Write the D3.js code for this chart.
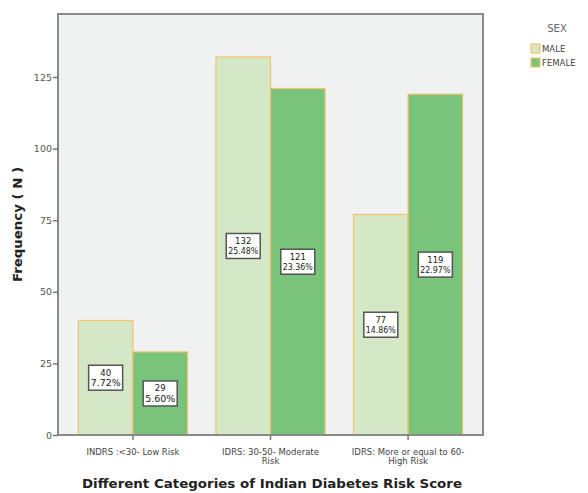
<!DOCTYPE html>
<html lang="en">
<head>
  <meta charset="UTF-8">
  <title>Indian Diabetes Risk Score by Sex</title>
  <script src="https://d3js.org/d3.v7.min.js"></script>
  <style>
    body { margin: 0; background: #fff; }
    svg { display: block; font-family: "DejaVu Sans", "Liberation Sans", Arial, sans-serif; }
  </style>
</head>
<body>
  <svg width="588" height="493"></svg>

  <script>
    // chart data
    const categories = ["INDRS :<30- Low Risk", "IDRS: 30-50- Moderate Risk", "IDRS: More or equal to 60- High Risk"];
    const categoryLines = [["INDRS :<30- Low Risk"], ["IDRS: 30-50- Moderate", "Risk"], ["IDRS: More or equal to 60-", "High Risk"]];
    const sexes = ["MALE", "FEMALE"];
    const maleCounts = [40, 132, 77];
    const femaleCounts = [29, 121, 119];
    const malePct = ["7.72%", "25.48%", "14.86%"];
    const femalePct = ["5.60%", "23.36%", "22.97%"];
    const yTicks = [0, 25, 50, 75, 100, 125];

    const colors = { MALE: "#d4e8c6", FEMALE: "#78c47a" };

    const svg = d3.select("svg");
    const plot = { left: 58, right: 483, top: 14, bottom: 435 };

    const rows = [];
    categories.forEach((c, i) => {
      rows.push({ cat: c, sex: "MALE", n: maleCounts[i], pct: malePct[i] });
      rows.push({ cat: c, sex: "FEMALE", n: femaleCounts[i], pct: femalePct[i] });
    });

    const x = d3.scaleBand()
      .domain(categories)
      .range([plot.left, plot.right])
      .paddingInner(0.207)
      .paddingOuter(0.148);

    const xSub = d3.scaleBand()
      .domain(sexes)
      .range([0, x.bandwidth()]);

    const y = d3.scaleLinear()
      .domain([0, 147])
      .range([plot.bottom, plot.top]);

    // plot background
    svg.append("rect")
      .attr("x", plot.left)
      .attr("y", plot.top)
      .attr("width", plot.right - plot.left)
      .attr("height", plot.bottom - plot.top)
      .attr("fill", "#f0f1f1");

    // bars
    svg.append("g").selectAll("rect")
      .data(rows)
      .join("rect")
      .attr("x", d => x(d.cat) + xSub(d.sex))
      .attr("y", d => y(d.n))
      .attr("width", xSub.bandwidth())
      .attr("height", d => y(0) - y(d.n))
      .attr("fill", d => colors[d.sex])
      .attr("stroke", "#f2c26e")
      .attr("stroke-width", 1.2);

    // value labels
    const labels = svg.append("g").selectAll("g")
      .data(rows)
      .join("g")
      .attr("transform", d => `translate(${x(d.cat) + xSub(d.sex) + xSub.bandwidth() / 2}, ${y(d.n / 2)})`);

    labels.append("rect")
      .attr("x", -17)
      .attr("y", -12.5)
      .attr("width", 34)
      .attr("height", 25)
      .attr("fill", "#fff")
      .attr("stroke", "#555")
      .attr("stroke-width", 1.5);

    labels.append("text")
      .attr("text-anchor", "middle")
      .attr("y", -2)
      .attr("font-size", 8.5)
      .attr("fill", "#222")
      .text(d => d.n);

    labels.append("text")
      .attr("text-anchor", "middle")
      .attr("y", 8.5)
      .attr("font-size", 8.5)
      .attr("fill", "#222")
      .attr("textLength", 30)
      .attr("lengthAdjust", "spacingAndGlyphs")
      .text(d => d.pct);

    // frame
    svg.append("rect")
      .attr("x", plot.left)
      .attr("y", plot.top)
      .attr("width", plot.right - plot.left)
      .attr("height", plot.bottom - plot.top)
      .attr("fill", "none")
      .attr("stroke", "#8a8a8a")
      .attr("stroke-width", 2);

    // y axis
    const yAxis = svg.append("g")
      .attr("transform", `translate(${plot.left}, 0)`)
      .call(d3.axisLeft(y).tickValues(yTicks).tickSize(5).tickSizeOuter(0));
    yAxis.select(".domain").remove();
    yAxis.selectAll(".tick line").attr("stroke", "#777").attr("stroke-width", 1.5);
    yAxis.selectAll(".tick text")
      .attr("font-family", "DejaVu Sans, sans-serif")
      .attr("font-size", 9.5)
      .attr("fill", "#555")
      .attr("x", -6);

    // x axis
    const xAxis = svg.append("g")
      .attr("transform", `translate(0, ${plot.bottom})`)
      .call(d3.axisBottom(x).tickSize(5).tickSizeOuter(0));
    xAxis.select(".domain").remove();
    xAxis.selectAll(".tick line").attr("stroke", "#777").attr("stroke-width", 1.5);
    xAxis.selectAll(".tick text").remove();
    xAxis.selectAll(".tick")
      .append("text")
      .attr("text-anchor", "middle")
      .attr("font-family", "DejaVu Sans, sans-serif")
      .attr("font-size", 8.5)
      .attr("fill", "#444")
      .selectAll("tspan")
      .data((d, i) => categoryLines[i])
      .join("tspan")
      .attr("x", 0)
      .attr("y", (d, i) => 20 + i * 9)
      .text(d => d);

    // axis titles
    svg.append("text")
      .attr("x", 272)
      .attr("y", 488)
      .attr("text-anchor", "middle")
      .attr("font-size", 12)
      .attr("font-weight", "bold")
      .attr("fill", "#222")
      .attr("textLength", 380)
      .attr("lengthAdjust", "spacingAndGlyphs")
      .text("Different Categories of Indian Diabetes Risk Score");

    svg.append("text")
      .attr("transform", `translate(22, ${(plot.top + plot.bottom) / 2}) rotate(-90)`)
      .attr("text-anchor", "middle")
      .attr("font-size", 11.5)
      .attr("font-weight", "bold")
      .attr("fill", "#222")
      .attr("textLength", 115)
      .attr("lengthAdjust", "spacingAndGlyphs")
      .text("Frequency ( N )");

    // legend
    const legend = svg.append("g").attr("transform", "translate(531, 0)");
    legend.append("text")
      .attr("x", 26)
      .attr("y", 32)
      .attr("text-anchor", "middle")
      .attr("font-size", 10)
      .attr("fill", "#666")
      .text("SEX");

    const items = legend.selectAll("g")
      .data(sexes)
      .join("g")
      .attr("transform", (d, i) => `translate(0, ${44 + i * 14})`);
    items.append("rect")
      .attr("width", 9)
      .attr("height", 9)
      .attr("fill", d => colors[d])
      .attr("stroke", "#f2c26e")
      .attr("stroke-width", 1.2);
    items.append("text")
      .attr("x", 11)
      .attr("y", 8)
      .attr("font-size", 8.5)
      .attr("fill", "#444")
      .text(d => d);
  </script>
</body>
</html>
